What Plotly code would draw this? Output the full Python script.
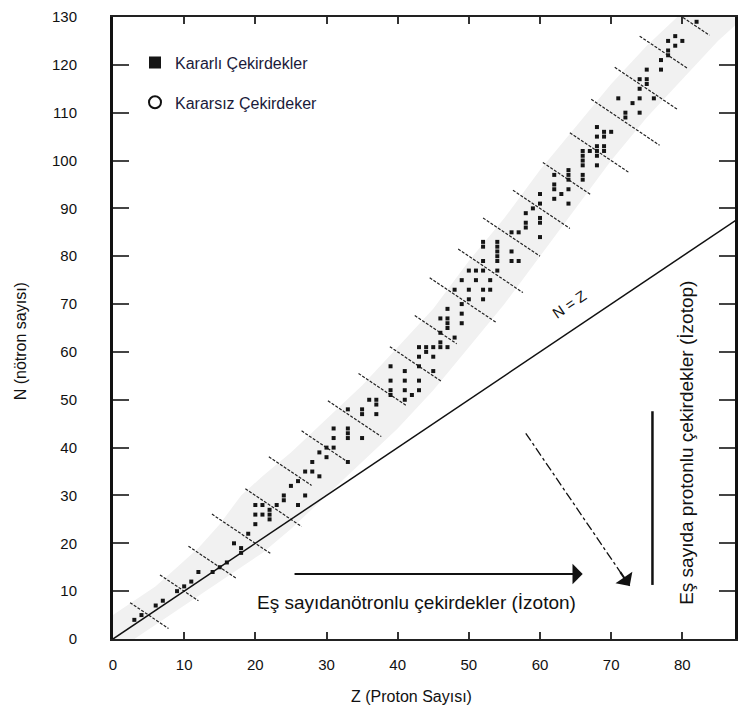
import plotly.graph_objects as go

# ---- Stable nuclides (Z, N) ----
stable_z = [3, 4, 6, 7, 9, 10, 11, 12, 14, 15, 16, 17, 18, 18, 19,
            20, 20, 20, 21, 21, 22, 22, 22, 23, 24, 24, 25, 26, 26, 27, 27,
            28, 28, 29, 29, 30, 30, 31, 31, 31, 33, 33, 33, 33, 33,
            35, 35, 35, 36, 37, 37, 37, 39, 39, 39, 39, 41, 41, 41, 41, 42,
            43, 43, 43, 43, 43, 44, 44, 45, 45, 45, 46, 46, 46, 46,
            47, 47, 47, 47, 47, 48, 48, 49, 49, 49, 49, 50, 50, 50, 51, 51,
            52, 52, 52, 52, 52, 52, 53, 53, 54, 54, 54, 54, 54, 54,
            56, 56, 56, 57, 57, 58, 58, 58, 59, 60, 60, 60, 60, 60,
            62, 62, 62, 62, 63, 64, 64, 64, 64, 64,
            66, 66, 66, 66, 66, 66, 67, 68, 68, 68, 68, 68, 68,
            69, 69, 69, 69, 70, 71, 72, 72, 73, 74, 74, 74, 74,
            75, 75, 75, 76, 77, 77, 78, 78, 78, 79, 79, 80, 82]
stable_n = [4, 5, 7, 8, 10, 11, 12, 14, 14, 15, 16, 20, 18, 19, 22,
            24, 26, 28, 26, 28, 25, 26, 27, 28, 29, 30, 32, 28, 33, 30, 35,
            35, 37, 34, 39, 38, 40, 40, 42, 44, 37, 42, 43, 44, 48,
            42, 47, 48, 50, 47, 49, 50, 51, 52, 54, 57, 50, 52, 54, 56, 51,
            52, 54, 57, 59, 61, 60, 61, 56, 59, 61, 61, 62, 64, 67,
            61, 65, 66, 67, 69, 63, 73, 66, 68, 70, 75, 71, 73, 77, 75, 77,
            71, 73, 77, 79, 82, 83, 73, 75, 77, 79, 80, 81, 82, 83,
            79, 81, 85, 79, 85, 86, 87, 89, 90, 84, 87, 88, 91, 93,
            92, 94, 95, 97, 93, 91, 94, 96, 97, 98,
            96, 97, 99, 100, 101, 102, 102, 99, 101, 102, 103, 105, 107,
            102, 103, 105, 106, 106, 113, 109, 110, 112, 110, 113, 115, 117,
            116, 117, 119, 113, 119, 121, 122, 123, 125, 124, 126, 125, 129]

# ---- Unstable-nuclide region (shaded band) ----
band_z = [0, 3, 6, 9, 12, 15, 18, 21, 25, 30, 35, 40, 45, 50, 55, 60, 65, 70, 75, 80, 85, 88]
band_lo = [0, 0, 3, 6, 9, 12, 15, 18, 23, 30, 37, 44, 52, 61, 70, 80, 90, 100, 109, 117, 125, 129]
band_hi = [5, 8, 11, 15, 19, 24, 30, 34, 39, 46, 53, 61, 69, 79, 88, 98, 107, 116, 124, 131, 131, 131]

# ---- Isobar lines (A = Z + N) ----
isobar_a = [10, 20, 30, 40, 50, 60, 70, 80, 90, 100, 110,
            120, 130, 140, 150, 160, 170, 180, 190, 200, 210]
isobar_z_start = [2.4, 6.6, 10.6, 13.9, 18.6, 21.9, 26.5, 30.2, 34.5, 38.9, 42.4,
                  44.5, 48.5, 52.0, 56.2, 60.4, 64.2, 67.2, 70.5, 74.0, 78.0]
isobar_z_end = [7.8, 12.0, 17.4, 22.1, 26.5, 27.9, 33.3, 37.7, 41.2, 46.2, 48.3,
                53.9, 57.6, 60.0, 64.2, 67.2, 72.6, 76.8, 79.4, 80.8, 83.8]

# ---- N = Z reference line ----
nz_line = [0, 90]

# ---- Guide arrows and marker line ----
isoton_arrow_z = [25.3, 66.0]
isoton_arrow_n = 13.6
diag_arrow_z = [58.0, 72.6]
diag_arrow_n = [43.0, 11.1]
isotope_bar_z = 75.8
isotope_bar_n = [11.3, 47.6]

x_ticks = list(range(0, 90, 10))
y_ticks = list(range(0, 140, 10))

FONT = "Liberation Sans, Arial, sans-serif"
INK = "#111111"

# plot-area geometry in pixels (used to place paper-referenced text)
PL, PR, PT, PB = 113, 735, 8, 639


def px(xp):
    return (xp - PL) / (PR - PL)


def py(yp):
    return (PB - yp) / (PB - PT)


fig = go.Figure()

# shaded band of unstable nuclides
fig.add_trace(go.Scatter(
    x=band_z + band_z[::-1], y=band_hi + band_lo[::-1],
    mode="lines", line=dict(width=0),
    fill="toself", fillcolor="#f1f1f1", showlegend=False, hoverinfo="skip"))

# isobar lines
iso_x, iso_y = [], []
for a, z0, z1 in zip(isobar_a, isobar_z_start, isobar_z_end):
    iso_x += [z0, z1, None]
    iso_y += [a - z0, a - z1, None]
fig.add_trace(go.Scatter(
    x=iso_x, y=iso_y, mode="lines",
    line=dict(color="#222222", width=1.2, dash="3px,1.5px"),
    showlegend=False, hoverinfo="skip"))

# N = Z line
fig.add_trace(go.Scatter(
    x=nz_line, y=nz_line, mode="lines",
    line=dict(color=INK, width=1.5), showlegend=False, hoverinfo="skip"))

# stable nuclides
fig.add_trace(go.Scatter(
    x=stable_z, y=stable_n, mode="markers", name="Kararlı Çekirdekler",
    legendgroup="a",
    marker=dict(symbol="square", size=4, color="#151515",
                line=dict(width=0))))

# legend entry for unstable nuclides
fig.add_trace(go.Scatter(
    x=[None], y=[None], mode="markers", name="Kararsız Çekirdeker",
    legendgroup="b",
    marker=dict(symbol="circle-open", size=12, color="#111111",
                line=dict(width=1.2, color="#111111"))))

# dash-dot guide line towards isotone arrow
fig.add_trace(go.Scatter(
    x=diag_arrow_z, y=diag_arrow_n, mode="lines",
    line=dict(color=INK, width=1.3, dash="dashdot"),
    showlegend=False, hoverinfo="skip"))

# vertical isotope bar
fig.add_trace(go.Scatter(
    x=[isotope_bar_z, isotope_bar_z], y=isotope_bar_n, mode="lines",
    line=dict(color=INK, width=2.5), showlegend=False, hoverinfo="skip"))


def label(text, xp, yp, size, angle=0):
    return dict(x=px(xp), y=py(yp), xref="paper", yref="paper", showarrow=False,
                xanchor="center", yanchor="middle", textangle=angle, text=text,
                font=dict(family=FONT, size=size, color=INK))


annotations = [
    # isotone arrow
    dict(x=isoton_arrow_z[1], y=isoton_arrow_n, ax=isoton_arrow_z[0], ay=isoton_arrow_n,
         xref="x", yref="y", axref="x", ayref="y", text="", showarrow=True,
         arrowhead=1, arrowsize=1.7, arrowwidth=2, arrowcolor=INK),
    # head of the dash-dot arrow
    dict(x=diag_arrow_z[1], y=diag_arrow_n[1],
         ax=diag_arrow_z[1] - 0.1 * (diag_arrow_z[1] - diag_arrow_z[0]),
         ay=diag_arrow_n[1] - 0.1 * (diag_arrow_n[1] - diag_arrow_n[0]),
         xref="x", yref="y", axref="x", ayref="y", text="", showarrow=True,
         arrowhead=1, arrowsize=1.7, arrowwidth=2, arrowcolor=INK),
    label("Eş sayıdanötronlu çekirdekler (İzoton)", 416, 602, 19),
    label("Eş sayıda protonlu çekirdekler (İzotop)", 687, 440, 19, -90),
    label("N = Z", 569, 300, 15, -34),
    # axis titles
    label("Z (Proton Sayısı)", 411, 697, 16),
    label("N (nötron sayısı)", 20, 337, 16, -90),
]

fig.update_layout(
    width=746, height=711,
    margin=dict(l=PL, r=746 - PR, t=PT, b=711 - PB),
    paper_bgcolor="white", plot_bgcolor="white",
    font=dict(family=FONT, size=15, color=INK),
    showlegend=True,
    legend=dict(x=px(135), y=py(37), xanchor="left", yanchor="top",
                bgcolor="rgba(0,0,0,0)", font=dict(size=16, color="#1a1a3a"),
                itemsizing="constant", tracegroupgap=16, traceorder="grouped"),
    annotations=annotations,
)

fig.update_xaxes(
    range=[0, 87.4], tickvals=x_ticks, ticks="inside", ticklen=7, tickwidth=2,
    tickcolor="#333333", showline=True, linecolor="#222222", linewidth=2,
    mirror="ticks", showgrid=False, zeroline=False, ticklabelstandoff=11,
    tickfont=dict(family=FONT, size=15, color=INK))
fig.update_yaxes(
    range=[0, 130], tickvals=y_ticks, ticks="inside", ticklen=16, tickwidth=1.5,
    tickcolor="#444444", showline=True, linecolor="#111111", linewidth=3,
    mirror="ticks", showgrid=False, zeroline=False, ticklabelstandoff=30,
    tickfont=dict(family=FONT, size=15, color=INK))

fig.write_html("out.html")
